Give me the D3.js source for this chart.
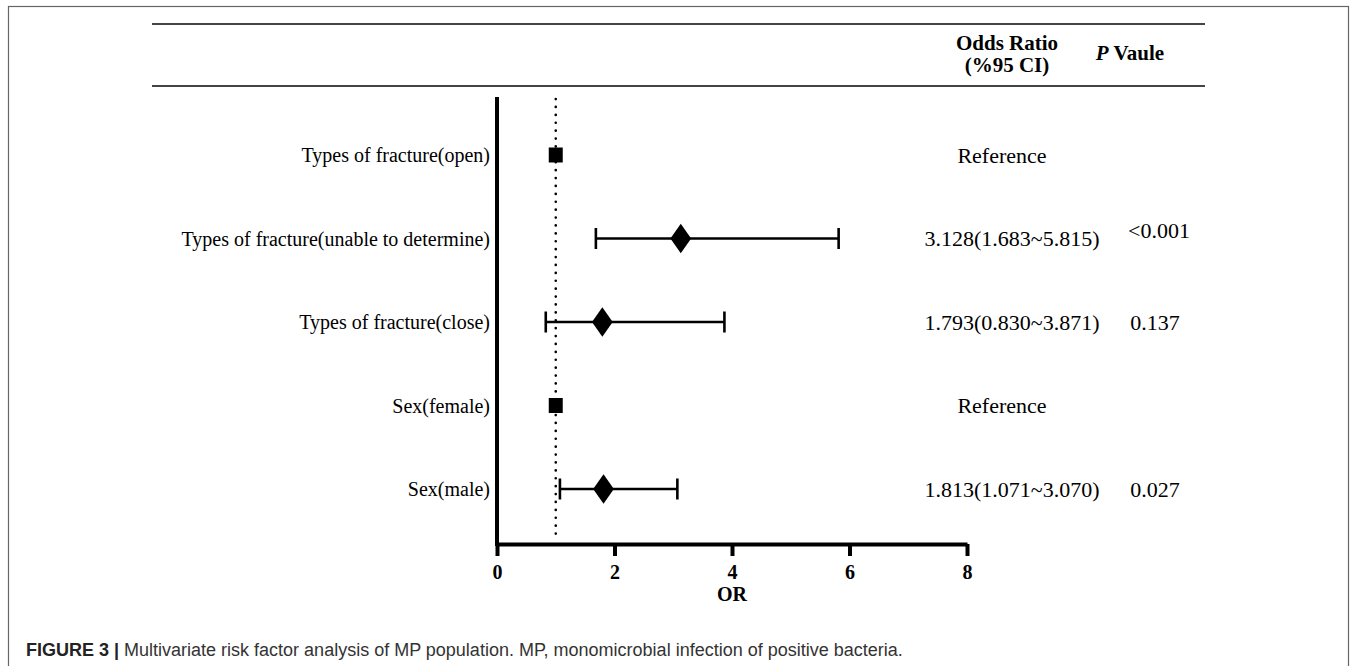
<!DOCTYPE html>
<html>
<head>
<meta charset="utf-8">
<script src="https://cdn.jsdelivr.net/npm/d3@7"></script>
<style>
  body { margin: 0; background: #fff; }
  svg text { font-family: "Liberation Serif", "Times New Roman", serif; }
</style>
</head>
<body>
<svg id="chart" width="1357" height="666"></svg>
<script>
(function() {

  // data
  var factors = [
    "Types of fracture(open)",
    "Types of fracture(unable to determine)",
    "Types of fracture(close)",
    "Sex(female)",
    "Sex(male)"
  ];
  var oddsRatio = [1, 3.128, 1.793, 1, 1.813];
  var lowerCI = [null, 1.683, 0.830, null, 1.071];
  var upperCI = [null, 5.815, 3.871, null, 3.070];
  var isReference = [true, false, false, true, false];
  var ciText = ["Reference", "3.128(1.683~5.815)", "1.793(0.830~3.871)", "Reference", "1.813(1.071~3.070)"];
  var pText = ["", "<0.001", "0.137", "", "0.027"];
  var xTicks = [0, 2, 4, 6, 8];

  var rows = factors.map((f, i) => ({
    name: f, or: oddsRatio[i], lo: lowerCI[i], hi: upperCI[i],
    ref: isReference[i], ci: ciText[i], p: pText[i]
  }));

  var svg = d3.select("#chart");

  // frame
  svg.append("rect")
      .attr("x", 8.5).attr("y", 6.5)
      .attr("width", 1340).attr("height", 680)
      .attr("fill", "none")
      .attr("stroke", "#666")
      .attr("stroke-width", 1.2);

  // table rules
  [24, 86].forEach(y => {
    svg.append("line")
        .attr("x1", 152).attr("x2", 1205)
        .attr("y1", y).attr("y2", y)
        .attr("stroke", "#444")
        .attr("stroke-width", 2);
  });

  svg.append("text")
      .attr("x", 1007).attr("y", 43)
      .attr("dy", "0.35em")
      .attr("text-anchor", "middle")
      .style("font-size", "21px").style("font-weight", "bold")
      .text("Odds Ratio");
  svg.append("text")
      .attr("x", 1007).attr("y", 65)
      .attr("dy", "0.35em")
      .attr("text-anchor", "middle")
      .style("font-size", "21px").style("font-weight", "bold")
      .text("(%95 CI)");
  var ph = svg.append("text")
      .attr("x", 1130).attr("y", 53)
      .attr("dy", "0.35em")
      .attr("text-anchor", "middle")
      .style("font-size", "21px").style("font-weight", "bold");
  ph.append("tspan").style("font-style", "italic").text("P");
  ph.append("tspan").text(" Vaule");

  var x = d3.scaleLinear()
      .domain([0, 8])
      .range([497, 967]);

  var y = d3.scalePoint()
      .domain(factors)
      .range([155, 489]);

  var axisTop = 97, axisBottom = 544;

  // reference line at OR = 1
  svg.append("line")
      .attr("x1", x(1)).attr("x2", x(1))
      .attr("y1", axisTop + 2).attr("y2", axisBottom - 3)
      .attr("stroke", "#000")
      .attr("stroke-width", 2.6)
      .attr("stroke-dasharray", "0.1 7.8")
      .attr("stroke-linecap", "round");

  // x axis
  var xAxis = d3.axisBottom(x)
      .tickValues(xTicks)
      .tickFormat(d3.format("d"))
      .tickSize(12)
      .tickSizeOuter(0);

  var gx = svg.append("g")
      .attr("transform", "translate(0," + axisBottom + ")")
      .call(xAxis);
  gx.select(".domain").attr("stroke-width", 4).attr("stroke", "#000");
  gx.selectAll(".tick line").attr("stroke-width", 4).attr("stroke", "#000");
  gx.selectAll(".tick text")
      .attr("y", 28)
      .attr("dy", "0.35em")
      .style("font-family", "Liberation Serif, serif")
      .style("font-size", "20px")
      .style("font-weight", "bold")
      .attr("fill", "#000");

  svg.append("text")
      .attr("x", x(4)).attr("y", 594)
      .attr("dy", "0.35em")
      .attr("text-anchor", "middle")
      .style("font-size", "20px").style("font-weight", "bold")
      .text("OR");

  // y axis line
  svg.append("line")
      .attr("x1", x(0)).attr("x2", x(0))
      .attr("y1", axisTop).attr("y2", axisBottom + 2)
      .attr("stroke", "#000")
      .attr("stroke-width", 4);

  // row labels
  svg.selectAll(".label")
      .data(rows)
    .enter().append("text")
      .attr("class", "label")
      .attr("x", 490)
      .attr("y", d => y(d.name))
      .attr("dy", "0.35em")
      .attr("text-anchor", "end")
      .style("font-size", "20px")
      .text(d => d.name);

  // confidence intervals
  var ci = svg.selectAll(".ci")
      .data(rows.filter(d => !d.ref))
    .enter().append("g")
      .attr("class", "ci")
      .attr("stroke", "#000")
      .attr("stroke-width", 2.6);
  ci.append("line")
      .attr("x1", d => x(d.lo)).attr("x2", d => x(d.hi))
      .attr("y1", d => y(d.name)).attr("y2", d => y(d.name));
  ci.append("line")
      .attr("x1", d => x(d.lo)).attr("x2", d => x(d.lo))
      .attr("y1", d => y(d.name) - 10.5).attr("y2", d => y(d.name) + 10.5);
  ci.append("line")
      .attr("x1", d => x(d.hi)).attr("x2", d => x(d.hi))
      .attr("y1", d => y(d.name) - 10.5).attr("y2", d => y(d.name) + 10.5);

  // markers
  var diamond = d3.symbol().type(d3.symbolDiamond).size(220);
  svg.selectAll(".mark")
      .data(rows)
    .enter().append("path")
      .attr("class", "mark")
      .attr("transform", d => "translate(" + x(d.or) + "," + y(d.name) + ")" + (d.ref ? "" : " scale(1.3,1.07)"))
      .attr("d", d => d.ref ? "M-7,-7.5H7V7.5H-7Z" : diamond())
      .attr("fill", "#000");

  // OR (CI) column
  svg.selectAll(".citext")
      .data(rows)
    .enter().append("text")
      .attr("class", "citext")
      .attr("x", d => d.ref ? 1002 : 1012)
      .attr("y", d => y(d.name))
      .attr("dy", "0.35em")
      .attr("text-anchor", "middle")
      .style("font-size", "22px")
      .text(d => d.ci);

  // p values
  svg.selectAll(".ptext")
      .data(rows.filter(d => d.p))
    .enter().append("text")
      .attr("class", "ptext")
      .attr("x", d => d.p[0] === "<" ? 1159 : 1155)
      .attr("y", d => y(d.name) - (d.p[0] === "<" ? 8 : 0))
      .attr("dy", "0.35em")
      .attr("text-anchor", "middle")
      .style("font-size", "22px")
      .text(d => d.p);

  // caption
  var cap = svg.append("text")
      .attr("x", 26).attr("y", 650)
      .attr("dy", "0.35em")
      .style("font-family", "Liberation Sans, Arial, sans-serif")
      .style("font-size", "18px")
      .attr("fill", "#333");
  cap.append("tspan").style("font-weight", "bold").attr("fill", "#222").text("FIGURE 3 | ");
  cap.append("tspan").text("Multivariate risk factor analysis of MP population. MP, monomicrobial infection of positive bacteria.");

})();
</script>
</body>
</html>
